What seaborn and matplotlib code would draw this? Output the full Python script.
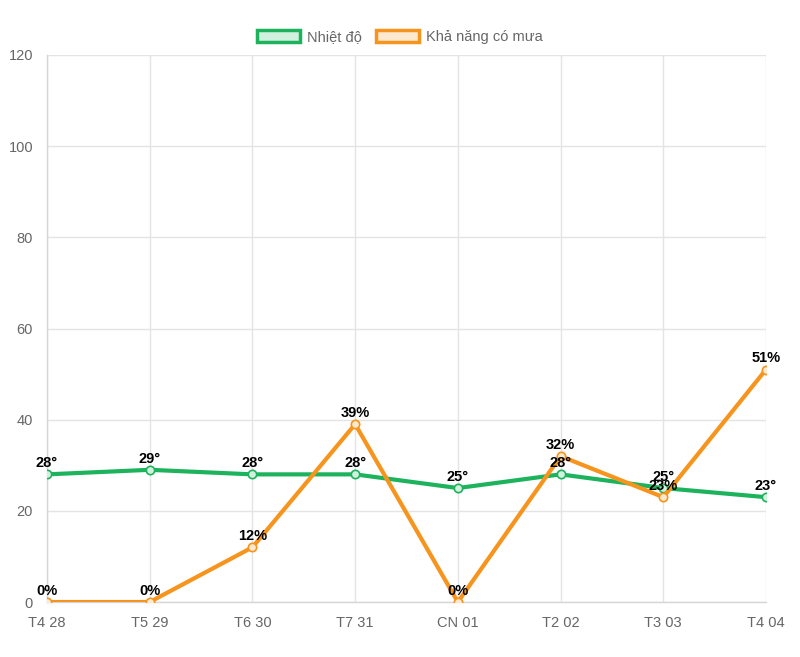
import pandas as pd
import matplotlib.pyplot as plt
import seaborn as sns
from matplotlib.patches import Patch

# Forecast data
days = ['T4 28', 'T5 29', 'T6 30', 'T7 31', 'CN 01', 'T2 02', 'T3 03', 'T4 04']
temperature = [28, 29, 28, 28, 25, 28, 25, 23]
rain_chance = [0, 0, 12, 39, 0, 32, 23, 51]

green = '#1db35c'
orange = '#f7941d'
grid_color = '#e4e4e4'
tick_color = '#666666'

sns.set_style('white')
plt.rcParams['font.family'] = ['Liberation Sans', 'DejaVu Sans']

fig = plt.figure(figsize=(8, 6.57), dpi=100)
ax = fig.add_axes([0.05875, 0.0837, 0.89875, 0.8326])

df = pd.DataFrame({'day': days, 'temp': temperature, 'rain': rain_chance})
df['x'] = range(len(days))

sns.lineplot(data=df, x='x', y='temp', ax=ax, color=green, linewidth=3,
             marker='o', markersize=6, markerfacecolor='#d2f0de',
             markeredgecolor=green, markeredgewidth=1.2, zorder=3)
sns.lineplot(data=df, x='x', y='rain', ax=ax, color=orange, linewidth=3,
             marker='o', markersize=6, markerfacecolor='#fde9d0',
             markeredgecolor=orange, markeredgewidth=1.2, zorder=4)

# Value labels above points
for i in range(len(days)):
    ax.annotate(f'{temperature[i]}°', (i, temperature[i]), xytext=(0, 3),
                textcoords='offset points', ha='center', va='bottom',
                fontsize=10.5, fontweight='bold', color='black', zorder=6)
    ax.annotate(f'{rain_chance[i]}%', (i, rain_chance[i]), xytext=(0, 3),
                textcoords='offset points', ha='center', va='bottom',
                fontsize=10.5, fontweight='bold', color='black', zorder=6)

ax.set_xlim(0, len(days) - 1)
ax.set_ylim(0, 120)
ax.set_xticks(range(len(days)))
ax.set_xticklabels(days)
ax.set_yticks(range(0, 121, 20))
ax.set_xlabel('')
ax.set_ylabel('')
ax.grid(True, color=grid_color, linewidth=1)
ax.tick_params(axis='both', colors=grid_color, labelcolor=tick_color,
               labelsize=10.5, length=8, width=1, pad=2)
for side in ['top', 'right']:
    ax.spines[side].set_visible(False)
for side in ['left', 'bottom']:
    ax.spines[side].set_color('#d6d6d6')
    ax.spines[side].set_linewidth(1)

handles = [
    Patch(facecolor='#d2f0de', edgecolor=green, linewidth=2.5, label='Nhiệt độ'),
    Patch(facecolor='#fde9d0', edgecolor=orange, linewidth=2.5, label='Khả năng có mưa'),
]
fig.legend(handles=handles, loc='center', bbox_to_anchor=(0.5, 0.944), ncol=2,
           frameon=False, fontsize=10.5, handlelength=2.9, handleheight=0.9,
           handletextpad=0.5, columnspacing=1.0, labelcolor=tick_color)

fig.savefig('out.png', dpi=100)
